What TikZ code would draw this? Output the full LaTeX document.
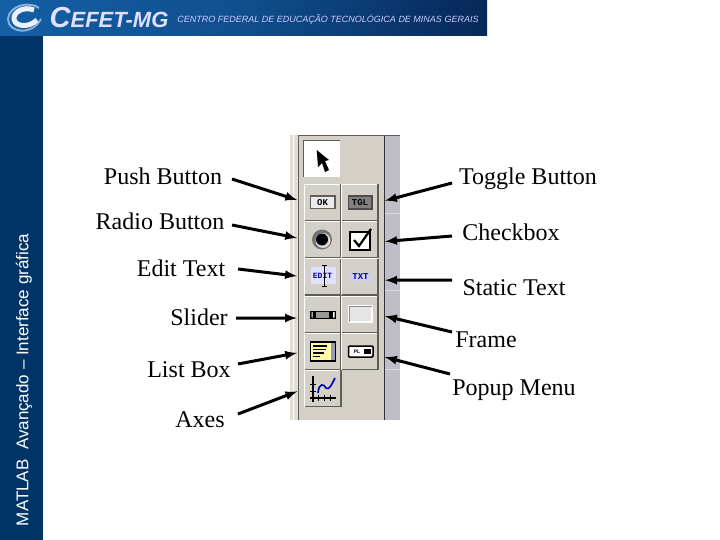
\documentclass[tikz,border=0pt]{standalone}
\usepackage{fontspec}
\usepackage{xcolor}
\usetikzlibrary{shapes,arrows,positioning,calc}
\setmainfont{Liberation Serif}
\setsansfont{Liberation Sans}
\setmonofont{Liberation Mono}
\definecolor{bandblue}{RGB}{0,51,102}
\definecolor{bandleft}{RGB}{20,95,165}
\definecolor{bandright}{RGB}{6,40,88}
\definecolor{panelgray}{RGB}{212,208,200}
\definecolor{sidegray}{RGB}{190,190,200}
\definecolor{edgedark}{RGB}{95,95,90}
\definecolor{logosilver}{RGB}{190,210,230}
\tikzset{
  lbl/.style={font=\fontsize{24}{26}\selectfont, inner sep=0pt},
  tbtn/.style={rectangle, fill=panelgray, minimum width=36pt, minimum height=36pt, inner sep=0pt},
  ptr/.style={-latex, line width=3pt, black},
  ptrl/.style={ptr, shorten >=8pt},
  ptrr/.style={ptr, shorten >=7pt},
  icontxt/.style={font=\ttfamily\bfseries\fontsize{9}{9}\selectfont, inner sep=0pt}
}
\newcommand{\btnedge}[1]{
  \draw[white, line width=1pt] (#1.south west) -- (#1.north west) -- (#1.north east);
  \draw[edgedark, line width=1.5pt] (#1.north east) -- (#1.south east) -- (#1.south west);
}
\begin{document}
\begin{tikzpicture}[x=1pt,y=-1pt]
    \useasboundingbox (0,0) rectangle (720,540);
    \fill[white] (0,0) rectangle (720,540);

    % header and side band
    \fill[bandblue] (0,0) rectangle (43,540);
    \shade[left color=bandleft, right color=bandright, middle color=bandleft!70!bandright] (0,0) rectangle (487,36);
    \draw[logosilver!70!bandleft, line width=2pt] (39,8) .. controls (30,1) and (9,5) .. (8,19) .. controls (8,33) and (32,36) .. (41,19);
    \draw[logosilver!30!white, line width=5pt] (34,10) .. controls (24,6) and (13,12) .. (14,19) .. controls (15,27) and (29,28) .. (37,20);
    \node[text=white!88!blue, font=\sffamily\bfseries\itshape\fontsize{22}{22}\selectfont, inner sep=0pt] (logo) at (109,18) {\fontsize{29}{29}\selectfont C\fontsize{22}{22}\selectfont EFET-MG};
    \node[text=white!80!blue, font=\sffamily\itshape\fontsize{9}{9}\selectfont, inner sep=0pt] (tagline) at (328,19) {CENTRO FEDERAL DE EDUCAÇÃO TECNOLÓGICA DE MINAS GERAIS};
    \node[text=white, rotate=90, font=\sffamily\fontsize{17}{17}\selectfont, inner sep=0pt] (side) at (24,380) {MATLAB\ \ Avançado -- Interface gráfica};

    % toolbar panel
    \fill[sidegray] (290,135) rectangle (400,420);
    \fill[panelgray!70!white] (290,135) rectangle (298,420);
    \draw[white, line width=1pt] (293,135) -- (293,420);
    \fill[panelgray] (298,135) rectangle (384,420);
    \draw[edgedark, line width=1pt] (298,135) -- (298,420);
    \draw[black!80, line width=1.5pt] (384.5,135) -- (384.5,420);
    \draw[edgedark, line width=1pt] (298,136) -- (400,136);
    \draw[white!85!black, line width=1pt] (385,214) -- (400,214);
    \draw[white!85!black, line width=1pt] (385,290) -- (400,290);
    \draw[white!85!black, line width=1pt] (385,369) -- (400,369);

    % buttons
    \node[tbtn, fill=white] (sel) at (322,159) {};
    \node[tbtn] (okBtn) at (323,202.5) {};
    \node[tbtn] (tglBtn) at (360,202.5) {};
    \node[tbtn] (radBtn) at (323,239.5) {};
    \node[tbtn] (chkBtn) at (360,239.5) {};
    \node[tbtn] (edtBtn) at (323,277) {};
    \node[tbtn] (txtBtn) at (360,277) {};
    \node[tbtn] (sldBtn) at (323,314.5) {};
    \node[tbtn] (frmBtn) at (360,314.5) {};
    \node[tbtn] (lstBtn) at (323,351.5) {};
    \node[tbtn] (popBtn) at (360,351.5) {};
    \node[tbtn] (axsBtn) at (323,388.5) {};
    \btnedge{okBtn} \btnedge{tglBtn} \btnedge{radBtn} \btnedge{chkBtn}
    \btnedge{edtBtn} \btnedge{txtBtn} \btnedge{sldBtn} \btnedge{frmBtn}
    \btnedge{lstBtn} \btnedge{popBtn} \btnedge{axsBtn}
    \draw[edgedark, line width=1.2pt] (sel.south west) -- (sel.north west) -- (sel.north east);

    % icons
    \fill[black] (316.7,150) -- (318,167) -- (322,163) -- (325,172) -- (329,170) -- (325,161) -- (329,160) -- cycle;
    \draw[edgedark, fill=white!92!black, line width=1.5pt] (310.5,196) rectangle (335,208.5);
    \node[icontxt] (okTxt) at (322.5,202.5) {OK};
    \draw[black!70, fill=black!50, line width=1.5pt] (348.5,196) rectangle (372,209);
    \node[icontxt, text=black] (tglTxt) at (360,202.5) {TGL};
    \fill[black!55] (322,239.5) circle (10);
    \fill[black!15] (323,240.5) circle (7.5);
    \fill[black] (322,239.5) circle (6);
    \draw[black, fill=white, line width=2pt] (350,232) rectangle (369.5,250);
    \draw[black, line width=2.2pt] (354,240) -- (359,246) -- (371,229);
    \fill[blue!12] (310.5,267) rectangle (335.5,284);
    \node[icontxt, text=blue!70!black, font=\ttfamily\bfseries\fontsize{8}{8}\selectfont] (edtTxt) at (322.5,275.5) {EDIT};
    \draw[black, line width=1.2pt] (324.5,265) -- (324.5,286);
    \draw[black, line width=0.6pt] (322,265) -- (327,265) (322,286) -- (327,286);
    \fill[blue!12!black!18] (348,270) rectangle (373,283);
    \node[icontxt, text=blue!70!black] (txtTxt) at (360.5,276.5) {TXT};
    \fill[black] (310,310.5) rectangle (336,319);
    \fill[black!40] (316,312) rectangle (329,317.5);
    \fill[white] (311.5,312) rectangle (312.5,317.5) (333,312) rectangle (334.5,317.5);
    \draw[white, fill=black!10, line width=1.5pt] (349,306) rectangle (372,322);
    \draw[black!45, line width=1pt] (349,322) -- (349,306) -- (372,306);
    \draw[black, fill=yellow!35, line width=1.5pt] (310.5,342) rectangle (335,361);
    \fill[blue!30!black!40] (331,343) rectangle (335,360);
    \draw[black, line width=1.2pt] (313,346) -- (327,346) (313,349.5) -- (326,349.5) (313,353) -- (324,353) (313,356.5) -- (320,356.5);
    \draw[black, fill=white, line width=1.5pt, rounded corners=1pt] (348.5,346) rectangle (373,357);
    \node[font=\sffamily\bfseries\fontsize{5}{5}\selectfont, inner sep=0pt] (popTxt) at (357,351.5) {PL};
    \fill[black] (364,349) rectangle (371,354);
    \draw[black, line width=1.2pt] (313,376) -- (313,402) (310,398) -- (336,398);
    \draw[black, line width=0.8pt] (318,395) -- (318,401) (324,395) -- (324,401) (330,395) -- (330,401) (310,384) -- (316,384) (310,391) -- (316,391);
    \draw[blue!70!black, line width=1.6pt] (318,393) .. controls (319,382) and (324,384) .. (326,388) .. controls (329,391) and (332,384) .. (335,378);

    % labels
    \node[lbl] (pushLbl) at (163,176) {Push Button};
    \node[lbl] (radioLbl) at (160,221) {Radio Button};
    \node[lbl] (editLbl) at (181,268) {Edit Text};
    \node[lbl] (sliderLbl) at (199,317) {Slider};
    \node[lbl] (listLbl) at (189,369.5) {List Box};
    \node[lbl] (axesLbl) at (200,419.5) {Axes};
    \node[lbl] (toggleLbl) at (528,179) {Toggle Button};
    \node[lbl] (checkLbl) at (511,232) {Checkbox};
    \node[lbl] (staticLbl) at (514,288) {Static Text};
    \node[lbl] (frameLbl) at (486,340) {Frame};
    \node[lbl] (popupLbl) at (514,390) {Popup Menu};

    % arrows
    \coordinate (pushEnd) at (232,179);
    \coordinate (radioEnd) at (232,225);
    \coordinate (editEnd) at (238,269);
    \coordinate (sliderEnd) at (236,318);
    \coordinate (listEnd) at (238,364);
    \coordinate (axesEnd) at (238,414);
    \coordinate (toggleEnd) at (452,183);
    \coordinate (checkEnd) at (452,236);
    \coordinate (staticEnd) at (452,280);
    \coordinate (frameEnd) at (452,332);
    \coordinate (popupEnd) at (450,374);
    \draw[ptrl] (pushEnd) -- (okBtn.west);
    \draw[ptrl] (radioEnd) -- (radBtn.west);
    \draw[ptrl] (editEnd) -- (edtBtn.west);
    \draw[ptrl] (sliderEnd) -- (sldBtn.191);
    \draw[ptrl] (listEnd) -- (lstBtn.west);
    \draw[ptrl] (axesEnd) -- (axsBtn.west);
    \draw[ptrr] (toggleEnd) -- (tglBtn.east);
    \draw[ptrr] (checkEnd) -- (chkBtn.-8);
    \draw[ptrr] (staticEnd) -- (txtBtn.-10);
    \draw[ptrr] (frameEnd) -- (frmBtn.east);
    \draw[ptrr] (popupEnd) -- (popBtn.-12);
\end{tikzpicture}
\end{document}
